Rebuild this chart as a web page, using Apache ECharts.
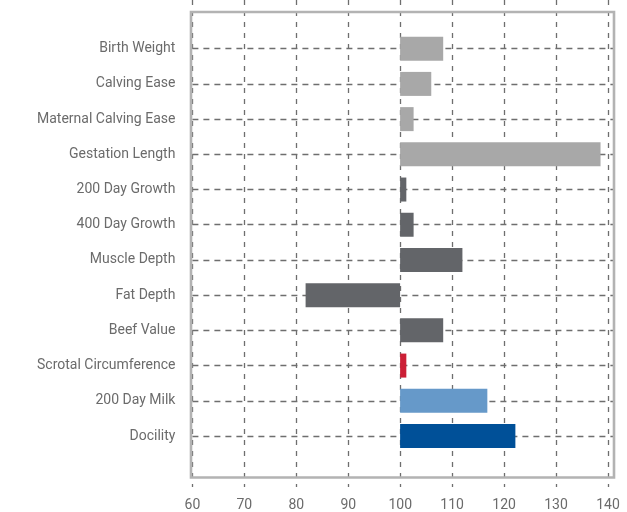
<!DOCTYPE html>
<html>
<head>
<meta charset="utf-8">
<script src="https://cdn.jsdelivr.net/npm/echarts@6/dist/echarts.min.js"></script>
<style>html,body{margin:0;padding:0;background:#fff;}#c{width:627px;height:512px;}</style>
</head>
<body>
<div id="c"></div>
<script>
const categories = ['Birth Weight','Calving Ease','Maternal Calving Ease','Gestation Length','200 Day Growth','400 Day Growth','Muscle Depth','Fat Depth','Beef Value','Scrotal Circumference','200 Day Milk','Docility'];
const indexValues = [108.3, 106.0, 102.6, 138.6, 101.2, 102.6, 112.0, 81.8, 108.3, 101.2, 116.8, 122.2];
const baseline = 100;
const xTicks = [60, 70, 80, 90, 100, 110, 120, 130, 140];
const barColors = ['#a8a8a8','#a8a8a8','#a8a8a8','#a8a8a8','#636569','#636569','#636569','#636569','#636569','#cc1f36','#6699c9','#005098'];

const chart = echarts.init(document.getElementById('c'), null, {renderer: 'canvas'});
const labelColor = '#6b6b6b';
const dashColor = '#6e6e6e';
chart.setOption({
  animation: false,
  grid: [
    {left: 192.4, right: 19, top: 0, bottom: 25, containLabel: false},
    {left: 192.4, right: 14, top: 48.7, bottom: 76, containLabel: false}
  ],
  xAxis: [
    {gridIndex: 0, type: 'value', min: xTicks[0], max: xTicks[xTicks.length-1], interval: 10,
     axisLine: {show: false}, axisTick: {show: false},
     axisLabel: {color: labelColor, fontSize: 14, fontFamily: 'Roboto, Arial, sans-serif', margin: 11,
       formatter: v => xTicks.includes(v) ? String(v) : ''},
     splitLine: {show: true, lineStyle: {color: dashColor, width: 1.3, type: [5, 6]}}},
    {gridIndex: 1, type: 'value', min: 60, max: 141, show: false,
     splitLine: {show: false}}
  ],
  yAxis: [
    {gridIndex: 0, type: 'value', show: false, min: 0, max: 1, splitLine: {show: false}},
    {gridIndex: 1, type: 'category', data: categories, inverse: true, boundaryGap: false,
     axisLine: {show: false}, axisTick: {show: false},
     axisLabel: {color: labelColor, fontSize: 14, fontFamily: 'Roboto, Arial, sans-serif', margin: 17},
     splitLine: {show: true, lineStyle: {color: dashColor, width: 1.3, type: [6, 5]}}}
  ],
  graphic: [{
    type: 'rect', z: 100, silent: true,
    shape: {x: 191, y: 12, width: 423, height: 465.5},
    style: {fill: 'none', stroke: '#b3b3b3', lineWidth: 2.6}
  }],
  series: [
    {type: 'bar', xAxisIndex: 1, yAxisIndex: 1, stack: 'idx', stackStrategy: 'all', barWidth: 24, clip: false,
     itemStyle: {color: 'rgba(0,0,0,0)'}, silent: true,
     data: categories.map(() => baseline)},
    {type: 'bar', xAxisIndex: 1, yAxisIndex: 1, stack: 'idx', stackStrategy: 'all', barWidth: 24, clip: false,
     data: indexValues.map((v, i) => ({value: +(v - baseline).toFixed(2), itemStyle: {color: barColors[i]}}))}
  ]
});
</script>
</body>
</html>
